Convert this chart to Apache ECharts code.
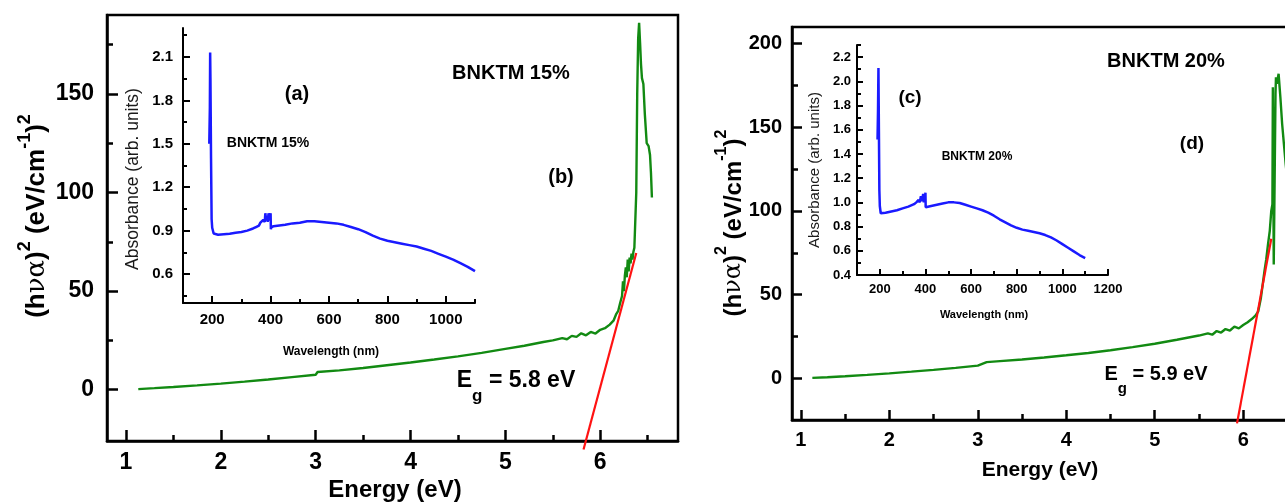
<!DOCTYPE html>
<html><head><meta charset="utf-8">
<script src="https://cdn.jsdelivr.net/npm/echarts@6/dist/echarts.min.js"></script>
<style>html,body{margin:0;padding:0;background:#fff}#c{width:1285px;height:503px}</style>
</head><body><div id="c"></div>
<script>
// ---------- panel (b): BNKTM 15%, (hνα)^2 vs energy ----------
const bEnergy = [1.13,1.3,1.5,1.75,2.0,2.25,2.5,2.75,3.0,3.02,3.25,3.5,3.75,4.0,4.25,4.5,4.75,5.0,5.2,5.4,5.5,5.6,5.65,5.7,5.75,5.8,5.85,5.9,5.95,6.0,6.05,6.1,6.14,6.17,6.19,6.21,6.23,6.24,6.25,6.26,6.27,6.28,6.29,6.3,6.31,6.32,6.33,6.34,6.35,6.36,6.37,6.38,6.39,6.40,6.41,6.42,6.43,6.44,6.455,6.47,6.49,6.51,6.525,6.535,6.545];
const bValue  = [0.3,0.8,1.4,2.2,3.1,4.1,5.2,6.4,7.6,9.0,9.8,11.0,12.4,13.8,15.3,16.9,18.7,20.7,22.3,24.2,25.0,26.2,25.6,27.3,26.8,28.6,27.6,29.3,28.5,30.4,31.2,33.0,35.0,38.5,40.0,44.0,47.5,55.0,50.0,58.0,62.0,57.0,66.0,60.0,67.0,64.0,69.0,66.0,70.0,72.0,72.0,100,150,178,186,176,165,158,155,140,125,123.5,119,110,97.5];
const bFitEnergy = [5.824, 6.38];
const bFitValue  = [-30.3, 69.3];

// ---------- panel (d): BNKTM 20% ----------
const dEnergy = [1.13,1.3,1.5,1.75,2.0,2.25,2.5,2.75,3.0,3.1,3.25,3.5,3.75,4.0,4.25,4.5,4.75,5.0,5.25,5.5,5.6,5.65,5.7,5.75,5.8,5.85,5.9,5.95,6.0,6.05,6.1,6.14,6.17,6.2,6.22,6.24,6.26,6.28,6.30,6.317,6.33,6.335,6.34,6.345,6.355,6.365,6.37,6.38,6.40,6.42,6.44,6.46,6.48,6.50,6.52,6.55];
const dValue  = [0.2,0.6,1.2,2.0,2.9,3.9,5.0,6.2,7.5,9.6,10.2,11.2,12.4,13.7,15.1,16.7,18.6,20.6,23.0,25.5,26.8,26.0,28.2,27.3,29.4,28.5,30.8,29.8,31.8,33.5,35.5,37.5,40,48,56,64,71,80,88,100,104,174,120,68,118,170,180,176,182,168,152,140,128,118,110,100];
const dFitEnergy = [5.93, 6.317];
const dFitValue  = [-27, 83.4];

// ---------- inset (a): absorbance BNKTM 15% ----------
const aWave = [190,192,193,194,196,198,200,205,210,220,240,260,280,300,320,340,350,360,365,370,375,380,382,385,388,390,393,396,398,400,401,403,410,430,450,475,500,525,550,575,600,625,650,675,700,725,750,775,800,825,850,875,900,925,950,975,1000,1025,1050,1075,1100];
const aAbs  = [1.50,1.75,2.13,1.95,1.40,0.98,0.92,0.88,0.875,0.872,0.875,0.878,0.885,0.89,0.90,0.915,0.925,0.935,0.955,0.945,0.975,0.96,1.02,0.97,1.00,0.96,1.02,0.97,1.00,1.02,0.91,0.925,0.93,0.935,0.94,0.95,0.955,0.965,0.965,0.96,0.955,0.95,0.94,0.925,0.91,0.89,0.865,0.845,0.83,0.82,0.81,0.80,0.79,0.775,0.76,0.74,0.72,0.70,0.675,0.65,0.62];

// ---------- inset (c): absorbance BNKTM 20% ----------
const cWave = [190,192,194,196,198,200,204,210,225,250,275,300,325,350,360,370,375,380,385,390,393,396,398,400,401,405,425,450,475,500,525,550,575,600,625,650,675,700,725,750,775,800,825,850,875,900,925,950,975,1000,1025,1050,1075,1100];
const cAbs  = [1.52,1.75,2.11,1.60,1.10,0.97,0.91,0.90,0.915,0.925,0.935,0.95,0.965,0.985,1.0,1.02,1.00,1.05,1.01,1.07,1.00,1.06,1.02,1.08,0.96,0.965,0.97,0.98,0.99,1.0,1.0,0.995,0.98,0.965,0.95,0.935,0.915,0.89,0.86,0.835,0.81,0.79,0.775,0.765,0.755,0.745,0.73,0.71,0.685,0.655,0.625,0.595,0.565,0.54];

// ---------- ticks ----------
const bXTicks = [1,2,3,4,5,6];           const bXMinor = [1.5,2.5,3.5,4.5,5.5,6.5];
const bYTicks = [0,50,100,150];          const bYMinor = [25,75,125,175];
const dXTicks = [1,2,3,4,5,6];           const dXMinor = [1.5,2.5,3.5,4.5,5.5,6.5];
const dYTicks = [0,50,100,150,200];      const dYMinor = [25,75,125,175];
const aXTicks = [200,400,600,800,1000];  const aXMinor = [300,500,700,900,1100];
const aYTicks = [0.6,0.9,1.2,1.5,1.8,2.1]; const aYMinor = [0.45,0.75,1.05,1.35,1.65,1.95,2.25];
const cXTicks = [200,400,600,800,1000,1200]; const cXMinor = [300,500,700,900,1100];
const cYTicks = [0.4,0.6,0.8,1.0,1.2,1.4,1.6,1.8,2.0,2.2]; const cYMinor = [0.5,0.7,0.9,1.1,1.3,1.5,1.7,1.9,2.1,2.3];

const SANS = "'Liberation Sans', Arial, sans-serif";
const NARROW = "'Liberation Sans Narrow', 'Liberation Sans', Arial, sans-serif";
const GREEN = '#128a12', BLUE = '#1a1aff', RED = '#ff1212';

function zip(a, b) { return a.map((v, i) => [v, b[i]]); }
const fInt = v => String(Math.round(v));
const f1 = v => Number(v).toFixed(1);
function ax(grid, min, max, vals, o) {
  return {
    type: 'value', gridIndex: grid, min: min, max: max, position: o.pos,
    axisLine: { show: !o.minor, onZero: false, lineStyle: { color: '#000', width: o.lw } },
    axisTick: { show: true, inside: true, length: o.tl, customValues: vals, lineStyle: { color: '#000', width: o.tw } },
    axisLabel: { show: !o.minor, customValues: vals, margin: o.m || 8, color: '#000', fontSize: o.fs || 12,
                 fontWeight: 'bold', fontFamily: o.ff || SANS, formatter: o.fmt || fInt },
    splitLine: { show: false }, minorTick: { show: false }, minorSplitLine: { show: false }
  };
}

const xAxes = [
  ax(0, 0.8, 6.82, bXTicks, { pos: 'bottom', lw: 2.5, tl: 11, tw: 2.5, fs: 23, m: 10 }),
  ax(0, 0.8, 6.82, bXMinor, { pos: 'bottom', minor: true, tl: 6, tw: 2.5 }),
  ax(1, 0.9, 6.8, dXTicks, { pos: 'bottom', lw: 2.5, tl: 10, tw: 2.5, fs: 20, m: 10 }),
  ax(1, 0.9, 6.8, dXMinor, { pos: 'bottom', minor: true, tl: 6, tw: 2.5 }),
  ax(2, 100, 1100, aXTicks, { pos: 'bottom', lw: 2, tl: 7, tw: 2, fs: 15, m: 9, ff: NARROW }),
  ax(2, 100, 1100, aXMinor, { pos: 'bottom', minor: true, tl: 4, tw: 2 }),
  ax(3, 100, 1200, cXTicks, { pos: 'bottom', lw: 2, tl: 6, tw: 2, fs: 13, m: 8, ff: NARROW }),
  ax(3, 100, 1200, cXMinor, { pos: 'bottom', minor: true, tl: 4, tw: 2 })
];
const yAxes = [
  ax(0, -26, 190, bYTicks, { pos: 'left', lw: 2.5, tl: 11, tw: 2.5, fs: 23, m: 13 }),
  ax(0, -26, 190, bYMinor, { pos: 'left', minor: true, tl: 6, tw: 2.5 }),
  ax(1, -25, 210, dYTicks, { pos: 'left', lw: 2.5, tl: 10, tw: 2.5, fs: 20, m: 10 }),
  ax(1, -25, 210, dYMinor, { pos: 'left', minor: true, tl: 6, tw: 2.5 }),
  ax(2, 0.4, 2.3, aYTicks, { pos: 'left', lw: 2, tl: 7, tw: 2, fs: 15, m: 10, ff: NARROW, fmt: f1 }),
  ax(2, 0.4, 2.3, aYMinor, { pos: 'left', minor: true, tl: 4, tw: 2 }),
  ax(3, 0.4, 2.3, cYTicks, { pos: 'left', lw: 2, tl: 6, tw: 2, fs: 13, m: 6, ff: NARROW, fmt: f1 }),
  ax(3, 0.4, 2.3, cYMinor, { pos: 'left', minor: true, tl: 4, tw: 2 })
];

function line(xi, data, color, w, clip) {
  return { type: 'line', xAxisIndex: xi, yAxisIndex: xi, data: data, showSymbol: false, symbol: 'none',
           clip: clip, silent: true, lineStyle: { color: color, width: w }, z: 3 };
}

function txt(x, y, text, fs, o) {
  o = o || {};
  return { type: 'text', x: x, y: y, rotation: o.rot || 0, z: 10, silent: true,
    style: { text: text, x: 0, y: 0, align: 'center', verticalAlign: 'middle', fill: o.color || '#000',
             font: (o.weight || 'bold') + ' ' + fs + 'px ' + (o.ff || SANS) } };
}
function yTitle(x, y, fs) {
  const sup = Math.round(fs * 0.68);
  return { type: 'text', x: x, y: y, rotation: Math.PI / 2, z: 10, silent: true,
    style: { text: '{b|(h}{g|να}{b|)}{s|2}{b| (eV/cm}{s|-1}{b|)}{s|2}', x: 0, y: 0, align: 'center', verticalAlign: 'middle',
      rich: {
        b: { fontSize: fs, fontWeight: 'bold', fontFamily: SANS, fill: '#000', lineHeight: fs + 8, verticalAlign: 'bottom' },
        g: { fontSize: fs, fontWeight: 'normal', fontFamily: "'DejaVu Serif', serif", fill: '#000', lineHeight: fs + 8, verticalAlign: 'bottom' },
        s: { fontSize: sup, fontWeight: 'bold', fontFamily: SANS, fill: '#000', lineHeight: sup, verticalAlign: 'top' }
      } } };
}
function egText(x, y, val, fs) {
  const sub = Math.round(fs * 0.75);
  return { type: 'text', x: x, y: y, z: 10, silent: true,
    style: { text: '{b|E}{s|g}{b| = ' + val + ' eV}', x: 0, y: 0, align: 'center', verticalAlign: 'middle',
      rich: {
        b: { fontSize: fs, fontWeight: 'bold', fontFamily: SANS, fill: '#000', lineHeight: fs + 2, verticalAlign: 'top' },
        s: { fontSize: sub, fontWeight: 'bold', fontFamily: SANS, fill: '#000', lineHeight: fs + 12, verticalAlign: 'bottom' }
      } } };
}

const option = {
  animation: false,
  backgroundColor: '#fff',
  grid: [
    { left: 107, top: 15, width: 571, height: 426, show: true, borderColor: '#000', borderWidth: 2.5, backgroundColor: 'transparent', outerBoundsMode: 'none', containLabel: false },
    { left: 792, top: 27, width: 522, height: 393, show: true, borderColor: '#000', borderWidth: 2.5, backgroundColor: 'transparent', outerBoundsMode: 'none', containLabel: false },
    { left: 183, top: 28, width: 292, height: 275, outerBoundsMode: 'none', containLabel: false },
    { left: 857, top: 45, width: 251, height: 230, outerBoundsMode: 'none', containLabel: false }
  ],
  xAxis: xAxes,
  yAxis: yAxes,
  series: [
    line(0, zip(bEnergy, bValue), GREEN, 2.4, true),
    line(0, zip(bFitEnergy, bFitValue), RED, 2.2, false),
    line(2, zip(dEnergy, dValue), GREEN, 2.4, true),
    line(2, zip(dFitEnergy, dFitValue), RED, 2.2, false),
    line(4, zip(aWave, aAbs), BLUE, 2.5, true),
    line(6, zip(cWave, cAbs), BLUE, 2.5, true)
  ],
  graphic: [
    yTitle(33, 216, 26),
    yTitle(730, 223, 24),
    txt(395, 490, 'Energy (eV)', 24),
    txt(1040, 470, 'Energy (eV)', 21),
    txt(133, 179, 'Absorbance (arb. units)', 17.5, { rot: Math.PI / 2, weight: 'normal', color: '#1a1a1a' }),
    txt(331, 352, 'Wavelength (nm)', 12),
    txt(815, 170, 'Absorbance (arb. units)', 15, { rot: Math.PI / 2, weight: 'normal', color: '#1a1a1a' }),
    txt(984, 315, 'Wavelength (nm)', 11),
    txt(297, 94, '(a)', 20),
    txt(268, 143, 'BNKTM 15%', 14, { ff: NARROW }),
    txt(511, 73, 'BNKTM 15%', 20),
    txt(561, 177, '(b)', 20),
    egText(516, 387, '5.8', 23),
    txt(910, 98, '(c)', 19),
    txt(977, 157, 'BNKTM 20%', 12, { ff: NARROW }),
    txt(1166, 61, 'BNKTM 20%', 20),
    txt(1192, 144, '(d)', 19),
    egText(1156, 380, '5.9', 20)
  ]
};
const chart = echarts.init(document.getElementById('c'), null, { renderer: 'canvas' });
chart.setOption(option);
</script></body></html>
